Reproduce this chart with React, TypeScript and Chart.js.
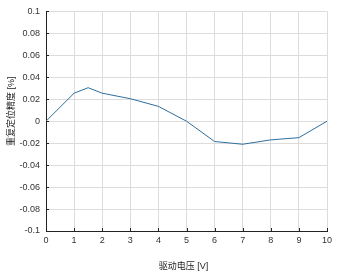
import React, { useEffect, useRef } from "react";
import { Chart, registerables } from "chart.js";

Chart.register(...registerables);

const voltages = [0, 1, 1.5, 2, 3, 4, 5, 6, 7, 8, 9, 10];
const accuracy = [0, 0.0255, 0.0305, 0.0255, 0.0205, 0.0135, 0, -0.0185, -0.021, -0.017, -0.015, 0];
const yTickLabels = ["-0.1", "-0.08", "-0.06", "-0.04", "-0.02", "0", "0.02", "0.04", "0.06", "0.08", "0.1"];
const xTickLabels = ["0", "1", "2", "3", "4", "5", "6", "7", "8", "9", "10"];
const xTitle = "驱动电压 [V]";
const yTitle = "重复定位精度 [%]";

const FONT = "'Liberation Sans', Arial, 'Noto Sans CJK SC', sans-serif";

const inwardTicksAndTitles = {
  id: "inwardTicksAndTitles",
  afterDraw(chart: any) {
    const { ctx, chartArea, scales } = chart;
    ctx.save();
    ctx.strokeStyle = "#222";
    ctx.lineWidth = 1;
    ctx.beginPath();
    scales.x.ticks.forEach((t: any) => {
      const px = Math.round(scales.x.getPixelForValue(t.value)) + 0.5;
      ctx.moveTo(px, chartArea.bottom);
      ctx.lineTo(px, chartArea.bottom - 3);
    });
    scales.y.ticks.forEach((t: any) => {
      const py = Math.round(scales.y.getPixelForValue(t.value)) + 0.5;
      ctx.moveTo(chartArea.left, py);
      ctx.lineTo(chartArea.left + 3, py);
    });
    ctx.stroke();

    ctx.fillStyle = "#222";
    ctx.font = `9px ${FONT}`;
    ctx.textAlign = "center";
    ctx.textBaseline = "middle";
    const cx = (chartArea.left + chartArea.right) / 2 - 3;
    ctx.fillText(xTitle, cx, chartArea.bottom + 36);
    const cy = (chartArea.top + chartArea.bottom) / 2 - 10;
    ctx.translate(12, cy);
    ctx.rotate(-Math.PI / 2);
    ctx.fillText(yTitle, 0, 0);
    ctx.restore();
  },
};

export default function App() {
  const ref = useRef<HTMLCanvasElement>(null);
  useEffect(() => {
    document.body.style.margin = "0";
    const chart = new Chart(ref.current!, {
      type: "line",
      data: {
        datasets: [
          {
            data: voltages.map((v, i) => ({ x: v, y: accuracy[i] })),
            borderColor: "#2f6f9f",
            borderWidth: 1,
            pointRadius: 0,
            tension: 0,
            fill: false,
          },
        ],
      },
      options: {
        animation: false,
        responsive: false,
        maintainAspectRatio: false,
        layout: { padding: { left: 0, right: 17, top: 10, bottom: 0 } },
        plugins: { legend: { display: false }, tooltip: { enabled: false } },
        scales: {
          x: {
            type: "linear",
            min: 0,
            max: 10,
            afterBuildTicks: (s: any) => {
              s.ticks = xTickLabels.map((l) => ({ value: Number(l) }));
            },
            afterFit: (s: any) => {
              s.height = 45;
            },
            ticks: {
              callback: (v: any) => xTickLabels[xTickLabels.indexOf(String(v))] ?? String(v),
              color: "#333",
              font: { family: FONT, size: 9 },
              padding: 4,
              maxRotation: 0,
            },
            grid: { color: "#dcdcdc", drawTicks: false, lineWidth: 1 },
            border: { display: true, color: "#222", width: 1 },
          },
          y: {
            type: "linear",
            min: -0.1,
            max: 0.1,
            afterBuildTicks: (s: any) => {
              s.ticks = yTickLabels.map((l) => ({ value: Number(l) }));
            },
            afterFit: (s: any) => {
              s.width = 46;
            },
            ticks: {
              callback: (v: any) => {
                const i = yTickLabels.findIndex((l) => Math.abs(Number(l) - v) < 1e-9);
                return i >= 0 ? yTickLabels[i] : String(v);
              },
              color: "#333",
              font: { family: FONT, size: 9 },
              padding: 6,
            },
            grid: { color: "#dcdcdc", drawTicks: false, lineWidth: 1 },
            border: { display: true, color: "#222", width: 1 },
          },
        },
      },
      plugins: [inwardTicksAndTitles],
    } as any);
    return () => chart.destroy();
  }, []);
  return (
    <div style={{ width: 344, height: 276 }}>
      <canvas ref={ref} width={344} height={276} />
    </div>
  );
}
